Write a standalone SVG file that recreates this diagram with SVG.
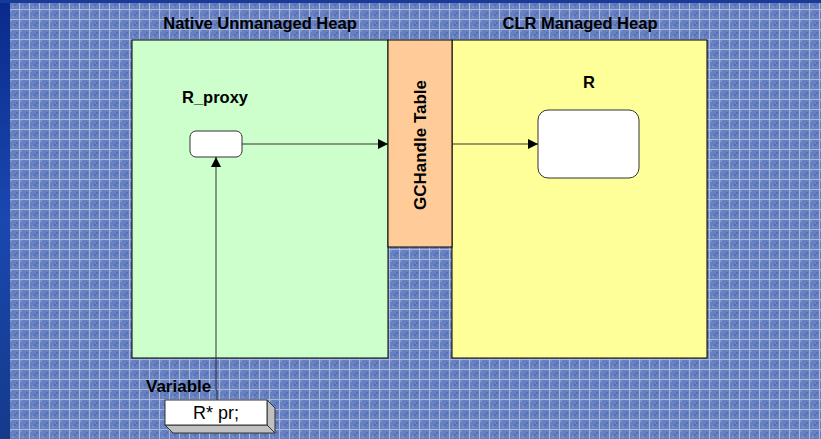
<svg xmlns="http://www.w3.org/2000/svg" width="821" height="439" viewBox="0 0 821 439">
<defs>
<pattern id="bg" x="0" y="0" width="10" height="10" patternUnits="userSpaceOnUse">
<rect width="10" height="10" fill="#6680c0"/>
<rect x="0" y="0" width="2" height="2" fill="#7a90c8"/>
<rect x="4" y="4" width="2" height="2" fill="#5470b8"/>
<rect x="2" y="6" width="2" height="2" fill="#7a90c8"/>
<rect x="6" y="2" width="2" height="2" fill="#5470b8"/>
<rect x="9" y="0" width="1" height="10" fill="#aab8dc"/>
<rect x="0" y="9" width="10" height="1" fill="#aab8dc"/>
</pattern>
<linearGradient id="strip" x1="0" y1="0" x2="0" y2="1">
<stop offset="0" stop-color="#0a2a8a"/>
<stop offset="0.5" stop-color="#1a48b0"/>
<stop offset="1" stop-color="#143a8a"/>
</linearGradient>
<marker id="ah" viewBox="0 0 10 10" refX="10" refY="5" markerWidth="10" markerHeight="10" markerUnits="userSpaceOnUse" orient="auto">
<path d="M0,0 L10,5 L0,10 z" fill="#000"/>
</marker>
<style>
.lbl{font-family:"Liberation Sans",Arial,sans-serif;font-weight:bold;font-size:16.5px;fill:#000}
.heap{stroke:#000;stroke-width:1}
.conn{stroke:#333;stroke-width:1;fill:none;marker-end:url(#ah)}
.box{fill:#fff;stroke:#333;stroke-width:1}
</style>
</defs>
<rect width="821" height="439" fill="url(#bg)"/>
<rect x="0" y="0" width="10" height="439" fill="url(#strip)"/>
<rect x="0" y="0" width="821" height="3" fill="#1a3a9a"/>

<g id="native-heap">
<rect class="heap" x="132" y="40" width="256" height="318" fill="#ccffcc"/>
<text class="lbl" x="260" y="29" text-anchor="middle">Native Unmanaged Heap</text>
</g>
<g id="clr-heap">
<rect class="heap" x="452" y="40" width="255" height="318" fill="#ffff99"/>
<text class="lbl" x="580" y="29" text-anchor="middle">CLR Managed Heap</text>
</g>
<g id="gchandle-table">
<rect class="heap" x="388" y="40" width="64" height="207" fill="#ffcc99"/>
<text class="lbl" x="0" y="0" text-anchor="middle" style="font-size:17px" transform="translate(426,145) rotate(-90)">GCHandle Table</text>
</g>
<g id="r-proxy">
<text class="lbl" x="215" y="103" text-anchor="middle">R_proxy</text>
<rect class="box" x="190" y="131" width="52" height="26" rx="6"/>
</g>
<g id="r-object">
<text class="lbl" x="589" y="88" text-anchor="middle">R</text>
<rect class="box" x="538" y="110" width="101" height="68" rx="10"/>
</g>
<g id="variable">
<text class="lbl" x="146" y="392" style="font-size:17px">Variable</text>
<polygon points="267,400 275,408 275,433 267,425" fill="#c0c0c0" stroke="#333" stroke-width="1"/>
<polygon points="165,425 267,425 275,433 173,433" fill="#c0c0c0" stroke="#333" stroke-width="1"/>
<rect x="165" y="400" width="102" height="25" fill="#fff" stroke="#333" stroke-width="1"/>
<text x="216" y="419" text-anchor="middle" style="font-family:'Liberation Sans',Arial,sans-serif;font-size:18px;fill:#000">R* pr;</text>
</g>
<g id="connectors">
<line class="conn" x1="242" y1="144" x2="388" y2="144"/>
<line class="conn" x1="452" y1="144" x2="538" y2="144"/>
<polyline class="conn" points="217,400 217,390 216,390 216,157"/>
</g>
</svg>
